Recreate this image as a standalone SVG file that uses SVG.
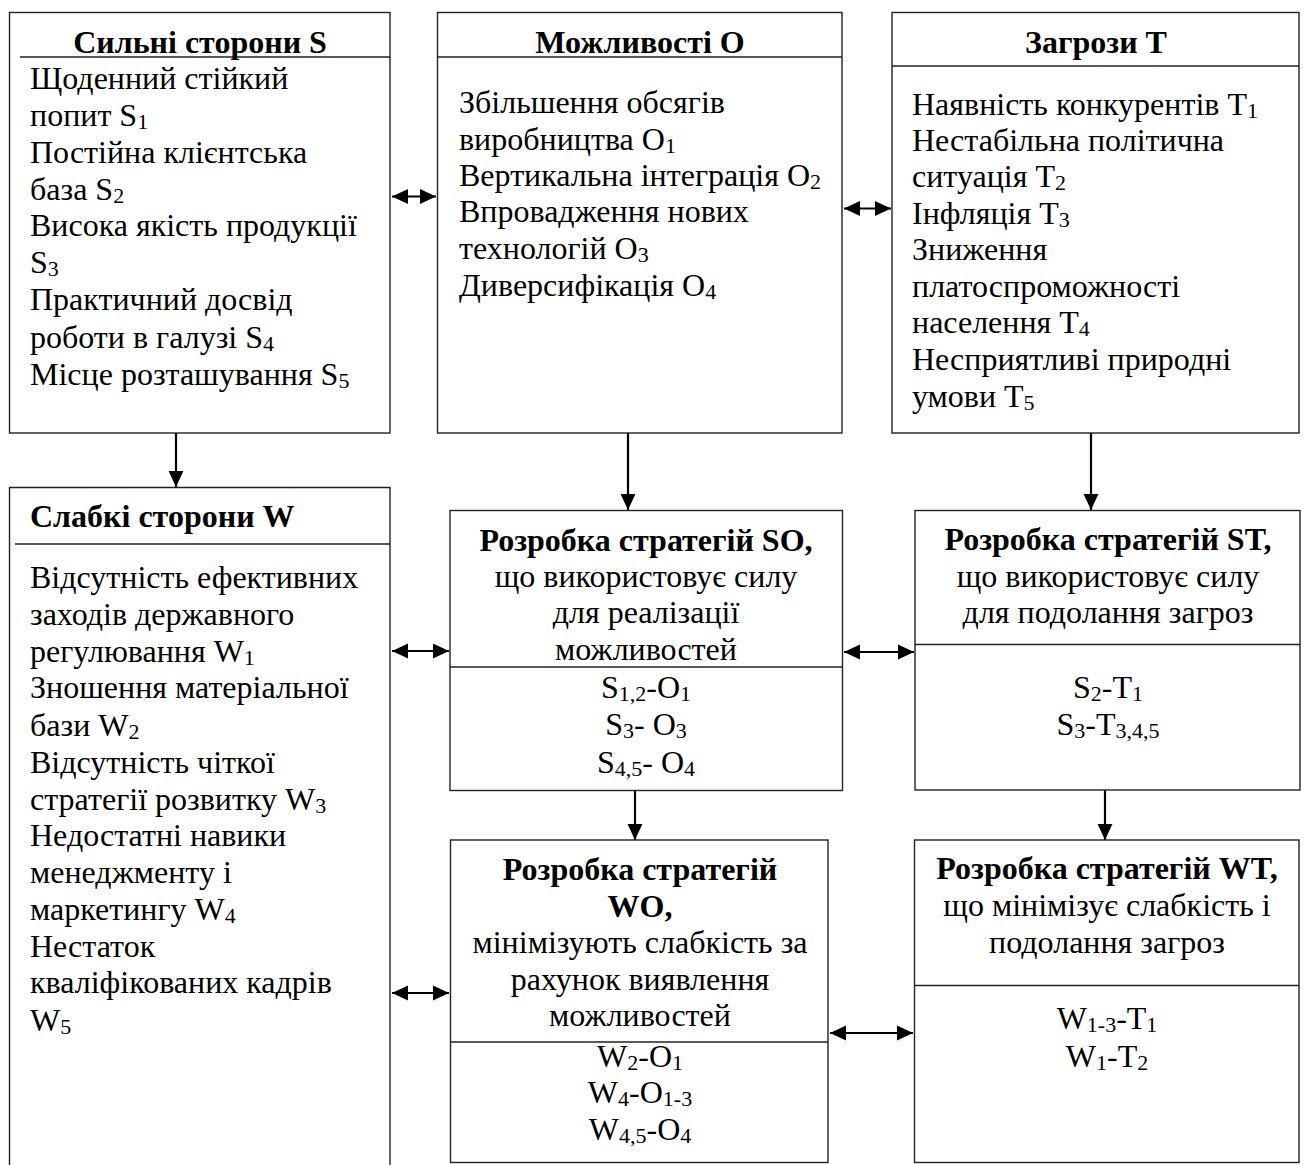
<svg xmlns="http://www.w3.org/2000/svg" width="1304" height="1165" viewBox="0 0 1304 1165">
<style>
text{font-family:"Liberation Serif","Times New Roman",serif;font-size:32px;fill:#000}
.b{font-weight:bold}
.c{text-anchor:middle}
.sub{font-size:22px;baseline-shift:-3px}
.box{fill:#fff;stroke:#222;stroke-width:1.4}
.div{stroke:#222;stroke-width:1.4;fill:none}
.con{stroke:#000;stroke-width:2.2;fill:none}
</style>
<defs>
<marker id="ah" markerUnits="userSpaceOnUse" markerWidth="16" markerHeight="16" viewBox="0 0 14 14" refX="14" refY="7" orient="auto-start-reverse">
<path d="M0,0.5 L14,7 L0,13.5 Z" fill="#000"/>
</marker>
</defs>

<g id="connectors">
<line class="con" x1="392" y1="196.5" x2="436" y2="196.5" marker-start="url(#ah)" marker-end="url(#ah)"/>
<line class="con" x1="844" y1="208.5" x2="891" y2="208.5" marker-start="url(#ah)" marker-end="url(#ah)"/>
<line class="con" x1="176" y1="433" x2="176" y2="487" marker-end="url(#ah)"/>
<line class="con" x1="628" y1="433" x2="628" y2="510" marker-end="url(#ah)"/>
<line class="con" x1="1091" y1="433" x2="1091" y2="510" marker-end="url(#ah)"/>
<line class="con" x1="635" y1="791" x2="635" y2="840" marker-end="url(#ah)"/>
<line class="con" x1="1105" y1="790" x2="1105" y2="840" marker-end="url(#ah)"/>
<line class="con" x1="392" y1="651" x2="449" y2="651" marker-start="url(#ah)" marker-end="url(#ah)"/>
<line class="con" x1="392" y1="993" x2="449" y2="993" marker-start="url(#ah)" marker-end="url(#ah)"/>
<line class="con" x1="844" y1="652" x2="914" y2="652" marker-start="url(#ah)" marker-end="url(#ah)"/>
<line class="con" x1="830" y1="1033" x2="913" y2="1033" marker-start="url(#ah)" marker-end="url(#ah)"/>
</g>

<g id="node-S">
<rect class="box" x="9.5" y="12.5" width="380.5" height="420.5"/>
<line class="div" x1="20" y1="57" x2="390" y2="57"/>
<text class="b c" x="200" y="53">Сильні сторони S</text>
<text x="30" y="89">Щоденний стійкий</text>
<text x="30" y="126">попит S<tspan class="sub">1</tspan></text>
<text x="30" y="163">Постійна клієнтська</text>
<text x="30" y="200">база S<tspan class="sub">2</tspan></text>
<text x="30" y="236">Висока якість продукції</text>
<text x="30" y="273">S<tspan class="sub">3</tspan></text>
<text x="30" y="310">Практичний досвід</text>
<text x="30" y="348">роботи в галузі S<tspan class="sub">4</tspan></text>
<text x="30" y="385">Місце розташування S<tspan class="sub">5</tspan></text>
</g>

<g id="node-O">
<rect class="box" x="437.5" y="12.5" width="404.5" height="420.5"/>
<line class="div" x1="437.5" y1="57" x2="842" y2="57"/>
<text class="b c" x="640" y="53">Можливості О</text>
<text x="459" y="113">Збільшення обсягів</text>
<text x="459" y="150">виробництва O<tspan class="sub">1</tspan></text>
<text x="459" y="186">Вертикальна інтеграція O<tspan class="sub">2</tspan></text>
<text x="459" y="222">Впровадження нових</text>
<text x="459" y="259">технологій O<tspan class="sub">3</tspan></text>
<text x="459" y="296">Диверсифікація O<tspan class="sub">4</tspan></text>
</g>

<g id="node-T">
<rect class="box" x="892" y="12.5" width="407" height="420.5"/>
<line class="div" x1="892" y1="66" x2="1299" y2="66"/>
<text class="b c" x="1096" y="53">Загрози Т</text>
<text x="912" y="115">Наявність конкурентів T<tspan class="sub">1</tspan></text>
<text x="912" y="151">Нестабільна політична</text>
<text x="912" y="187">ситуація T<tspan class="sub">2</tspan></text>
<text x="912" y="224">Інфляція T<tspan class="sub">3</tspan></text>
<text x="912" y="260">Зниження</text>
<text x="912" y="297">платоспроможності</text>
<text x="912" y="333">населення T<tspan class="sub">4</tspan></text>
<text x="912" y="370">Несприятливі природні</text>
<text x="912" y="407">умови T<tspan class="sub">5</tspan></text>
</g>

<g id="node-W">
<path class="box" d="M9.5,1170 V487.5 H390 V1170"/>
<line class="div" x1="15" y1="544" x2="390" y2="544"/>
<text class="b" x="30" y="527">Слабкі сторони W</text>
<text x="30" y="588">Відсутність ефективних</text>
<text x="30" y="625">заходів державного</text>
<text x="30" y="662">регулювання W<tspan class="sub">1</tspan></text>
<text x="30" y="698">Зношення матеріальної</text>
<text x="30" y="736">бази W<tspan class="sub">2</tspan></text>
<text x="30" y="773">Відсутність чіткої</text>
<text x="30" y="810">стратегії розвитку W<tspan class="sub">3</tspan></text>
<text x="30" y="846">Недостатні навики</text>
<text x="30" y="883">менеджменту і</text>
<text x="30" y="920">маркетингу W<tspan class="sub">4</tspan></text>
<text x="30" y="957">Нестаток</text>
<text x="30" y="993">кваліфікованих кадрів</text>
<text x="30" y="1031">W<tspan class="sub">5</tspan></text>
</g>

<g id="node-SO">
<rect class="box" x="450" y="510.5" width="392.5" height="280"/>
<line class="div" x1="450" y1="667" x2="842.5" y2="667"/>
<text class="b c" x="646" y="551">Розробка стратегій SO,</text>
<text class="c" x="646" y="587">що використовує силу</text>
<text class="c" x="646" y="623">для реалізації</text>
<text class="c" x="646" y="660">можливостей</text>
<text class="c" x="646" y="698">S<tspan class="sub">1,2</tspan>-O<tspan class="sub">1</tspan></text>
<text class="c" x="646" y="735">S<tspan class="sub">3</tspan>- O<tspan class="sub">3</tspan></text>
<text class="c" x="646" y="773">S<tspan class="sub">4,5</tspan>- O<tspan class="sub">4</tspan></text>
</g>

<g id="node-ST">
<rect class="box" x="915" y="510.5" width="385" height="279.5"/>
<line class="div" x1="915" y1="644.5" x2="1300" y2="644.5"/>
<text class="b c" x="1108" y="550">Розробка стратегій ST,</text>
<text class="c" x="1108" y="587">що використовує силу</text>
<text class="c" x="1108" y="623">для подолання загроз</text>
<text class="c" x="1108" y="698">S<tspan class="sub">2</tspan>-T<tspan class="sub">1</tspan></text>
<text class="c" x="1108" y="735">S<tspan class="sub">3</tspan>-T<tspan class="sub">3,4,5</tspan></text>
</g>

<g id="node-WO">
<rect class="box" x="450.5" y="840" width="377.5" height="322.5"/>
<line class="div" x1="450.5" y1="1042" x2="828" y2="1042"/>
<text class="b c" x="640" y="880">Розробка стратегій</text>
<text class="b c" x="640" y="917">WO,</text>
<text class="c" x="640" y="953">мінімізують слабкість за</text>
<text class="c" x="640" y="990">рахунок виявлення</text>
<text class="c" x="640" y="1026">можливостей</text>
<text class="c" x="640" y="1067">W<tspan class="sub">2</tspan>-O<tspan class="sub">1</tspan></text>
<text class="c" x="640" y="1103">W<tspan class="sub">4</tspan>-O<tspan class="sub">1-3</tspan></text>
<text class="c" x="640" y="1140">W<tspan class="sub">4,5</tspan>-O<tspan class="sub">4</tspan></text>
</g>

<g id="node-WT">
<rect class="box" x="914.5" y="840" width="384.5" height="322.5"/>
<line class="div" x1="914.5" y1="985.5" x2="1299" y2="985.5"/>
<text class="b c" x="1107" y="879">Розробка стратегій WT,</text>
<text class="c" x="1107" y="916">що мінімізує слабкість і</text>
<text class="c" x="1107" y="953">подолання загроз</text>
<text class="c" x="1107" y="1029">W<tspan class="sub">1-3</tspan>-T<tspan class="sub">1</tspan></text>
<text class="c" x="1107" y="1067">W<tspan class="sub">1</tspan>-T<tspan class="sub">2</tspan></text>
</g>
</svg>
